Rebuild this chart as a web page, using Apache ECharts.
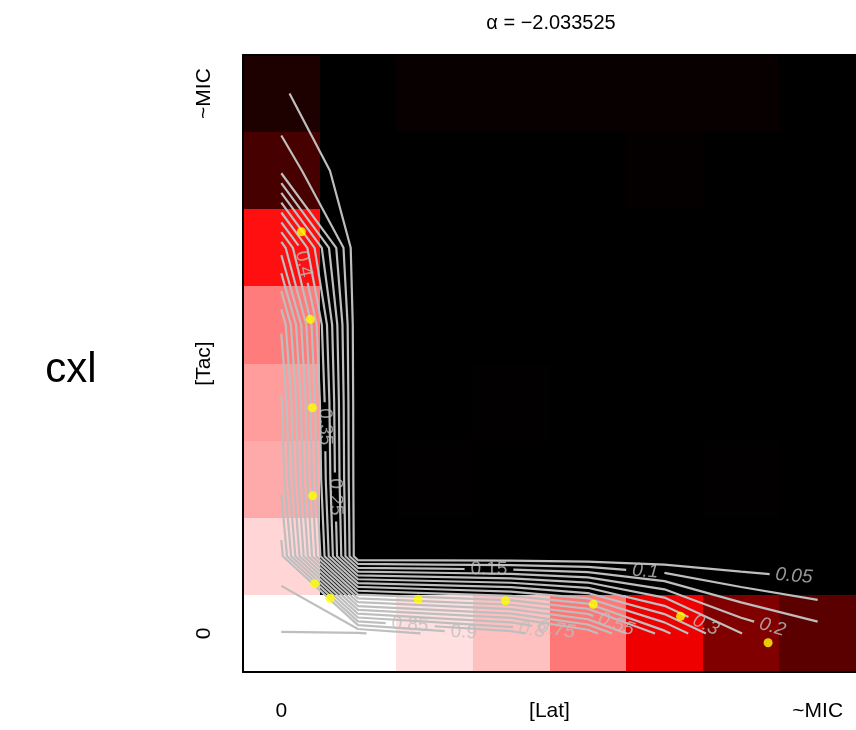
<!DOCTYPE html>
<html><head><meta charset="utf-8">
<script src="https://cdn.jsdelivr.net/npm/echarts@6/dist/echarts.min.js"></script>
<style>html,body{margin:0;padding:0;background:#fff}#c{width:856px;height:730px}</style>
</head><body><div id="c"></div>
<script>
// ---------------- data ----------------
const chartTitle = 'α = −2.033525';
const rowLabel = 'cxl';
const xTickValues = [0, 3.5, 7];
const xTickLabels = ['0', '[Lat]', '~MIC'];
const yTickValues = [0, 3.5, 7];
const yTickLabels = ['0', '[Tac]', '~MIC'];

// surface values, rows listed from top ([Tac] = ~MIC) to bottom ([Tac] = 0),
// columns from [Lat] = 0 to ~MIC
const zRow7 = [0.056, 0.000, 0.016, 0.016, 0.016, 0.016, 0.016, 0.000];
const zRow6 = [0.137, 0.000, 0.000, 0.000, 0.000, 0.008, 0.000, 0.000];
const zRow5 = [0.530, 0.000, 0.000, 0.000, 0.000, 0.000, 0.000, 0.000];
const zRow4 = [0.743, 0.000, 0.000, 0.000, 0.000, 0.000, 0.000, 0.000];
const zRow3 = [0.806, 0.000, 0.000, 0.004, 0.000, 0.000, 0.000, 0.000];
const zRow2 = [0.833, 0.000, 0.004, 0.000, 0.000, 0.000, 0.003, 0.000];
const zRow1 = [0.918, 0.000, 0.000, 0.000, 0.000, 0.000, 0.000, 0.000];
const zRow0 = [1.0016, 1.008, 0.937, 0.876, 0.735, 0.467, 0.251, 0.177];

const contourLevels = [0.05, 0.1, 0.15, 0.2, 0.25, 0.3, 0.35, 0.4, 0.45, 0.5,
                       0.55, 0.6, 0.65, 0.7, 0.75, 0.8, 0.85, 0.9, 0.95, 1.0];
// where each shown contour label sits: along x or along y (grid units)
const labelLevels = [0.05, 0.1, 0.15, 0.2, 0.25, 0.3, 0.35, 0.4, 0.55, 0.75, 0.8, 0.85, 0.9];
const labelAxis   = ['x', 'x', 'x', 'x', 'y', 'x', 'y', 'y', 'x', 'x', 'x', 'x', 'x'];
const labelAt     = [6.69, 4.75, 2.71, 6.41, 1.77, 5.54, 2.68, 4.79, 4.37, 3.59, 3.27, 1.68, 2.38];

// yellow points (grid units)
const pointsLat = [0.262, 0.379, 0.405, 0.409, 0.435, 0.639, 1.786, 2.925, 4.071, 5.210, 6.353];
const pointsTac = [5.208, 4.073, 2.926, 1.785, 0.644, 0.455, 0.442, 0.424, 0.377, 0.222, -0.121];

// ---------------- layout / style ----------------
const FONT = '"Liberation Sans", Arial, Helvetica, sans-serif';
const gridLeft = 243, gridTop = 55, gridW = 616, gridH = 617;
const lineColor = '#bebebe';
const labelSize = 19;
const labelPad = 6;
const minPiece = 12;

const zRows = [zRow7, zRow6, zRow5, zRow4, zRow3, zRow2, zRow1, zRow0];
const nRows = zRows.length, nCols = zRows[0].length;
const F = [];
for (let j = 0; j < nRows; j++) F[j] = zRows[nRows - 1 - j];
const sx = gridW / nCols, sy = gridH / nRows;

const heatData = [];
for (let j = 0; j < nRows; j++)
  for (let i = 0; i < nCols; i++)
    heatData.push([i, j, Math.min(F[j][i], 1)]);

// marching squares
function contourPolylines(level) {
  const segs = [];
  for (let j = 0; j < nRows - 1; j++) {
    for (let i = 0; i < nCols - 1; i++) {
      const v0 = F[j][i], v1 = F[j][i + 1], v2 = F[j + 1][i + 1], v3 = F[j + 1][i];
      const ab = (a, b) => (a >= level) !== (b >= level);
      const P = {};
      if (ab(v0, v1)) P.b = {id: 'h' + i + '_' + j, p: [i + (level - v0) / (v1 - v0), j]};
      if (ab(v1, v2)) P.r = {id: 'v' + (i + 1) + '_' + j, p: [i + 1, j + (level - v1) / (v2 - v1)]};
      if (ab(v3, v2)) P.t = {id: 'h' + i + '_' + (j + 1), p: [i + (level - v3) / (v2 - v3), j + 1]};
      if (ab(v0, v3)) P.l = {id: 'v' + i + '_' + j, p: [i, j + (level - v0) / (v3 - v0)]};
      const ks = Object.keys(P);
      if (ks.length === 2) segs.push([P[ks[0]], P[ks[1]]]);
      else if (ks.length === 4) {
        const c = (v0 + v1 + v2 + v3) / 4;
        const blUp = v0 >= level, cUp = c >= level;
        if (blUp === cUp) { segs.push([P.b, P.r]); segs.push([P.t, P.l]); }
        else { segs.push([P.l, P.b]); segs.push([P.r, P.t]); }
      }
    }
  }
  const adj = {};
  segs.forEach((s, k) => { s.forEach(e => { (adj[e.id] = adj[e.id] || []).push(k); }); });
  const used = new Array(segs.length).fill(false);
  const lines = [];
  function walk(startK, startId) {
    const pts = [];
    let k = startK;
    const s0 = segs[k];
    let cur = s0[0].id === startId ? s0[0] : s0[1];
    pts.push(cur.p);
    while (k !== undefined && !used[k]) {
      used[k] = true;
      const s = segs[k];
      const nxt = s[0].id === cur.id ? s[1] : s[0];
      pts.push(nxt.p);
      cur = nxt;
      const cand = (adj[cur.id] || []).filter(q => !used[q]);
      k = cand[0];
    }
    return pts;
  }
  Object.keys(adj).forEach(id => {
    if (adj[id].length === 1 && !used[adj[id][0]]) lines.push(walk(adj[id][0], id));
  });
  segs.forEach((s, k) => { if (!used[k]) lines.push(walk(k, s[0].id)); });
  return lines;
}

const ctx = document.createElement('canvas').getContext('2d');
ctx.font = labelSize + 'px ' + FONT;

function cumLen(poly) {
  const c = [0];
  for (let k = 1; k < poly.length; k++)
    c.push(c[k - 1] + Math.hypot((poly[k][0] - poly[k - 1][0]) * sx, (poly[k][1] - poly[k - 1][1]) * sy));
  return c;
}
function pointAt(poly, cum, s) {
  for (let k = 1; k < poly.length; k++) {
    if (s <= cum[k]) {
      const f = (s - cum[k - 1]) / ((cum[k] - cum[k - 1]) || 1);
      return [poly[k - 1][0] + f * (poly[k][0] - poly[k - 1][0]), poly[k - 1][1] + f * (poly[k][1] - poly[k - 1][1])];
    }
  }
  return poly[poly.length - 1];
}

const lineSeries = [];
const labelItems = [];
contourLevels.forEach(level => {
  const polys = contourPolylines(level);
  const li = labelLevels.findIndex(v => Math.abs(v - level) < 1e-9);
  polys.forEach(poly => {
    let pieces = [poly];
    if (li >= 0) {
      const ax = labelAxis[li] === 'x' ? 0 : 1, val = labelAt[li];
      const cum = cumLen(poly);
      const total = cum[cum.length - 1];
      for (let k = 0; k + 1 < poly.length; k++) {
        const a = poly[k][ax], b = poly[k + 1][ax];
        if (a !== b && (a - val) * (b - val) <= 0) {
          const f = (val - a) / (b - a);
          const s0 = cum[k] + f * (cum[k + 1] - cum[k]);
          const pos = [poly[k][0] + f * (poly[k + 1][0] - poly[k][0]), poly[k][1] + f * (poly[k + 1][1] - poly[k][1])];
          let ang = Math.atan2((poly[k + 1][1] - poly[k][1]) * sy, (poly[k + 1][0] - poly[k][0]) * sx) * 180 / Math.PI;
          if (ang > 90) ang -= 180;
          if (ang <= -90) ang += 180;
          const txt = String(level);
          const h = ctx.measureText(txt).width / 2 + labelPad;
          pieces = [];
          if (s0 - h > minPiece) {
            const p1 = [];
            for (let q = 0; q < poly.length && cum[q] < s0 - h; q++) p1.push(poly[q]);
            p1.push(pointAt(poly, cum, s0 - h));
            pieces.push(p1);
          }
          if (s0 + h < total - minPiece) {
            const p2 = [pointAt(poly, cum, s0 + h)];
            for (let q = 0; q < poly.length; q++) if (cum[q] > s0 + h) p2.push(poly[q]);
            pieces.push(p2);
          }
          const sloped = Math.abs(ang) > 4 && Math.abs(ang) < 60;
          labelItems.push({value: pos, label: {formatter: txt, rotate: ang, fontStyle: sloped ? 'italic' : 'normal'}});
          break;
        }
      }
    }
    pieces.forEach(pc => {
      if (pc.length < 2) return;
      lineSeries.push({
        type: 'line', xAxisIndex: 0, yAxisIndex: 0, data: pc, symbol: 'none', showSymbol: false,
        silent: true, z: 3, animation: false, clip: true,
        lineStyle: {color: lineColor, width: 2.2}
      });
    });
  });
});

const valAxisCommon = {
  type: 'value', gridIndex: 0, min: -0.5, max: 7.5, z: 10,
  axisTick: {show: false}, splitLine: {show: false}, splitArea: {show: false},
  axisLine: {show: true, onZero: false, lineStyle: {color: '#000', width: 2}}
};

const chart = echarts.init(document.getElementById('c'), null, {renderer: 'canvas'});
chart.setOption({
  animation: false,
  backgroundColor: '#fff',
  grid: {left: gridLeft, top: gridTop, width: gridW, height: gridH, show: false},
  xAxis: [
    Object.assign({}, valAxisCommon, {
      position: 'bottom',
      axisLabel: {customValues: xTickValues, formatter: v => xTickLabels[xTickValues.indexOf(v)],
                  margin: 29, fontSize: 21, color: '#000', fontFamily: FONT}
    }),
    Object.assign({}, valAxisCommon, {position: 'top', axisLabel: {show: false}})
  ],
  yAxis: [
    Object.assign({}, valAxisCommon, {
      position: 'left',
      axisLabel: {customValues: yTickValues, formatter: v => yTickLabels[yTickValues.indexOf(v)],
                  rotate: 90, margin: 28, fontSize: 21, color: '#000', fontFamily: FONT}
    })
  ],
  visualMap: {
    show: false, type: 'continuous', min: 0, max: 1, dimension: 2, seriesIndex: 0,
    inRange: {color: ['#000000', '#ff0000', '#ffffff']}
  },
  graphic: [
    {type: 'text', x: 551, y: 23, style: {text: chartTitle, fontSize: 20, fontFamily: FONT, fill: '#000', align: 'center', verticalAlign: 'middle'}},
    {type: 'text', x: 71, y: 370, style: {text: rowLabel, fontSize: 42, fontFamily: FONT, fill: '#000', align: 'center', verticalAlign: 'middle'}}
  ],
  series: [
    {
      type: 'custom', xAxisIndex: 0, yAxisIndex: 0, data: heatData, z: 1, silent: true,
      encode: {x: 0, y: 1},
      renderItem: function (params, api) {
        const x = api.value(0), y = api.value(1);
        const p0 = api.coord([x - 0.5, y + 0.5]);
        const p1 = api.coord([x + 0.5, y - 0.5]);
        const x0 = Math.round(p0[0]), y0 = Math.round(p0[1]);
        const x1 = Math.round(p1[0]), y1 = Math.round(p1[1]);
        return {type: 'rect', shape: {x: x0, y: y0, width: x1 - x0, height: y1 - y0},
                style: {fill: api.visual('color'), stroke: null}};
      }
    }
  ].concat(lineSeries).concat([
    {
      type: 'scatter', xAxisIndex: 0, yAxisIndex: 0, symbolSize: 1, silent: true, z: 4,
      itemStyle: {color: 'rgba(0,0,0,0)'},
      label: {show: true, position: 'inside', color: lineColor, fontSize: labelSize, fontFamily: FONT},
      data: labelItems
    },
    {
      type: 'scatter', xAxisIndex: 0, yAxisIndex: 0, symbolSize: 9, silent: true, z: 5,
      itemStyle: {color: '#ffff00'},
      data: pointsLat.map((x, k) => [x, pointsTac[k]])
    }
  ])
});
</script>
</body></html>
